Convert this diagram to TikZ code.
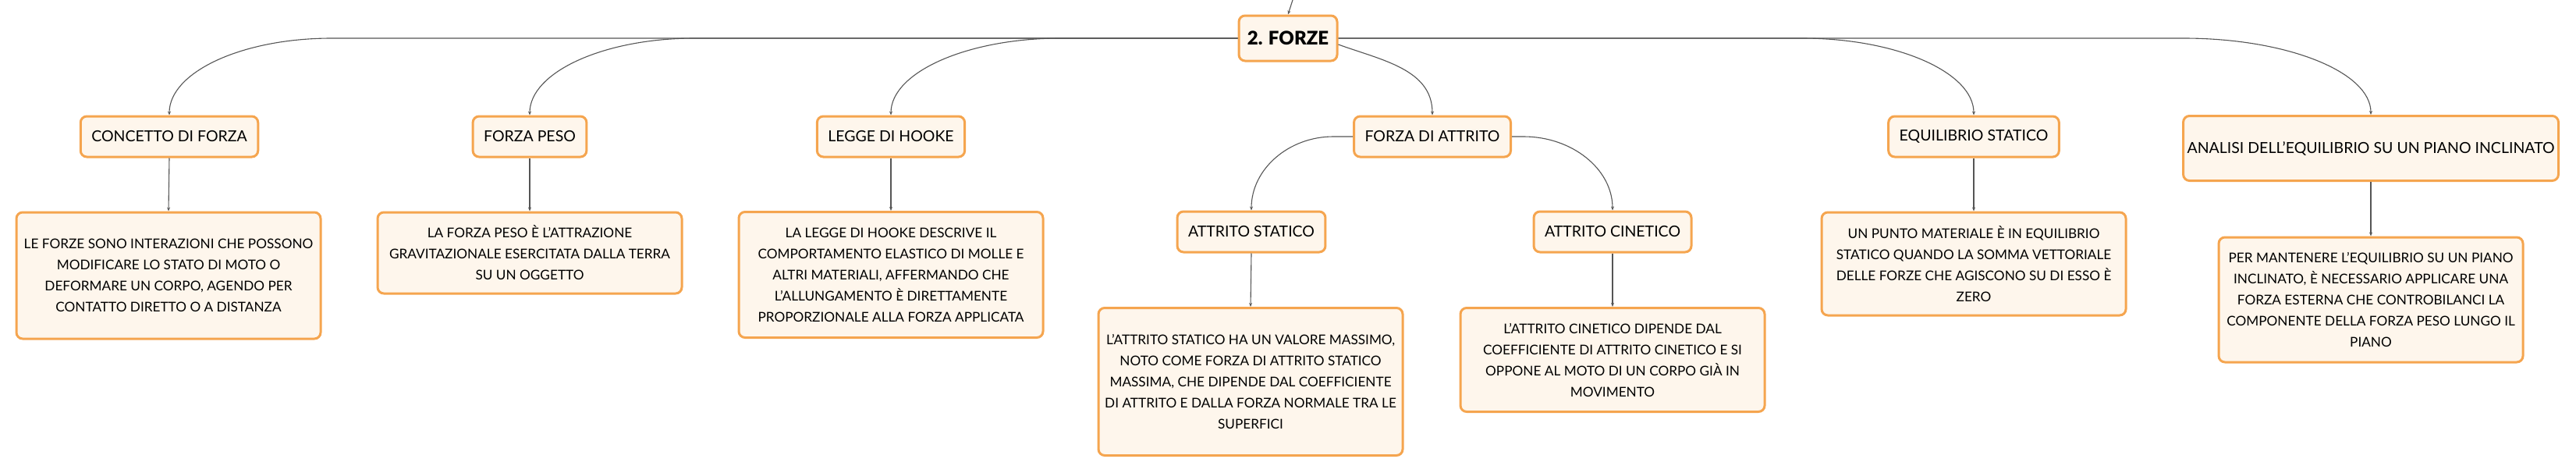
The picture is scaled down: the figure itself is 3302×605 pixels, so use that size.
\documentclass[tikz,border=0pt]{standalone}
\usepackage{fontspec}
\setmainfont{Lato}
\newfontfamily\heavyfont{Lato Black}
\usetikzlibrary{arrows.meta,calc}
\definecolor{boxline}{HTML}{F5A54F}
\definecolor{boxfill}{HTML}{FEF6EC}
\definecolor{linkgray}{HTML}{555555}
\begin{document}
\begin{tikzpicture}[x=1pt,y=-1pt,
    card/.style={draw=boxline,fill=boxfill,line width=3pt,rounded corners=8pt},
    topic/.style={card,font=\fontsize{24}{28}\selectfont\heavyfont,minimum width=126pt,minimum height=58pt},
    sub/.style={card,font=\fontsize{19.5}{27}\selectfont,inner xsep=14pt,minimum height=52pt},
    info/.style={card,font=\fontsize{17.2}{27}\selectfont,minimum width=390pt,inner xsep=4pt,align=center},
    link/.style={draw=linkgray,line width=1.1pt,-{Stealth[length=5pt,width=4pt]}}]
      \useasboundingbox (0,0) rectangle (3302,605);
      \draw
        (1651,49) node[topic] (forze){2. FORZE}
        (217,175) node[sub] (concetto){CONCETTO DI FORZA}
        (679,175) node[sub] (peso){FORZA PESO}
        (1142,175) node[sub] (hooke){LEGGE DI HOOKE}
        (1836,175) node[sub] (attrito){FORZA DI ATTRITO}
        (2530,175) node[sub] (equil){EQUILIBRIO STATICO}
        (3039,190) node[sub,minimum height=83pt,inner xsep=5pt] (piano){ANALISI DELL’EQUILIBRIO SU UN PIANO INCLINATO}
        (1604,297) node[sub] (statico){ATTRITO STATICO}
        (2067,297) node[sub] (cinetico){ATTRITO CINETICO}
        (216,353) node[info,minimum height=162pt] (concettoTxt){LE FORZE SONO INTERAZIONI CHE POSSONO\\ MODIFICARE LO STATO DI MOTO O\\ DEFORMARE UN CORPO, AGENDO PER\\ CONTATTO DIRETTO O A DISTANZA}
        (679,324) node[info,minimum height=104pt] (pesoTxt){LA FORZA PESO È L’ATTRAZIONE\\ GRAVITAZIONALE ESERCITATA DALLA TERRA\\ SU UN OGGETTO}
        (1142,352) node[info,minimum height=161pt] (hookeTxt){LA LEGGE DI HOOKE DESCRIVE IL\\ COMPORTAMENTO ELASTICO DI MOLLE E\\ ALTRI MATERIALI, AFFERMANDO CHE\\ L’ALLUNGAMENTO È DIRETTAMENTE\\ PROPORZIONALE ALLA FORZA APPLICATA}
        (1603,489) node[info,minimum height=189pt] (staticoTxt){L’ATTRITO STATICO HA UN VALORE MASSIMO,\\ NOTO COME FORZA DI ATTRITO STATICO\\ MASSIMA, CHE DIPENDE DAL COEFFICIENTE\\ DI ATTRITO E DALLA FORZA NORMALE TRA LE\\ SUPERFICI}
        (2067,461) node[info,minimum height=133pt] (cineticoTxt){L’ATTRITO CINETICO DIPENDE DAL\\ COEFFICIENTE DI ATTRITO CINETICO E SI\\ OPPONE AL MOTO DI UN CORPO GIÀ IN\\ MOVIMENTO}
        (2530,338) node[info,minimum height=132pt] (equilTxt){UN PUNTO MATERIALE È IN EQUILIBRIO\\ STATICO QUANDO LA SOMMA VETTORIALE\\ DELLE FORZE CHE AGISCONO SU DI ESSO È\\ ZERO}
        (3039,384) node[info,minimum height=160pt] (pianoTxt){PER MANTENERE L’EQUILIBRIO SU UN PIANO\\ INCLINATO, È NECESSARIO APPLICARE UNA\\ FORZA ESTERNA CHE CONTROBILANCI LA\\ COMPONENTE DELLA FORZA PESO LUNGO IL\\ PIANO};
      \coordinate (root) at (1657,0);
      \begin{scope}[link]
        \draw (root) to (forze.north);
        \draw (forze.west) -- ($(concetto.north |- forze.west)+(208,0)$) .. controls +(-115,0) and +(0,-55) .. (concetto.north);
        \draw (forze.west) -- ($(peso.north |- forze.west)+(211,0)$) .. controls +(-116,0) and +(0,-55) .. (peso.north);
        \draw (forze.west) -- ($(hooke.north |- forze.west)+(217,0)$) .. controls +(-119,0) and +(0,-55) .. (hooke.north);
        \draw ([yshift=-8pt]forze.east) to[out=-20,in=90] (attrito.north);
        \draw (forze.east) -- ($(equil.north |- forze.east)+(-220,0)$) .. controls +(121,0) and +(0,-55) .. (equil.north);
        \draw (forze.east) -- ($(piano.north |- forze.east)+(-240,0)$) .. controls +(132,0) and +(0,-55) .. (piano.north);
        \draw (attrito.west) -- ++(-25,0) .. controls +(-57,0) and +(0,-53) .. (statico.north);
        \draw (attrito.east) -- ++(15,0) .. controls +(62,0) and +(0,-53) .. (cinetico.north);
        \draw (concetto.south) to (concettoTxt.north);
        \draw (peso.south) to (pesoTxt.north);
        \draw (hooke.south) to (hookeTxt.north);
        \draw (statico.south) to (staticoTxt.north);
        \draw (cinetico.south) to (cineticoTxt.north);
        \draw (equil.south) to (equilTxt.north);
        \draw (piano.south) to (pianoTxt.north);
      \end{scope}
    \end{tikzpicture}
\end{document}
